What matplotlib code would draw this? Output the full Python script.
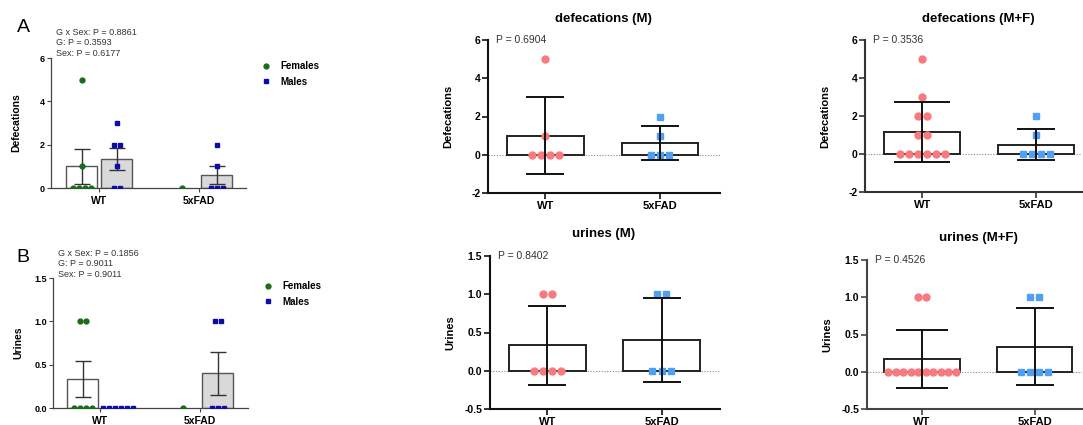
import numpy as np
import matplotlib.pyplot as plt

plt.rcParams['font.family'] = ['Liberation Sans', 'DejaVu Sans']
plt.rcParams['axes.unicode_minus'] = False

W, H = 1083, 425

groups = ['WT', '5xFAD']

# panel A / B: by sex
defec_f = [[0, 0, 0, 0, 1, 5], [0]]
defec_m = [[0, 0, 1, 2, 2, 3], [0, 0, 0, 1, 2]]
urine_f = [[0, 0, 0, 0, 1, 1], [0]]
urine_m = [[0, 0, 0, 0, 0, 0], [0, 0, 0, 1, 1]]
stats_a = ['G x Sex: P = 0.8861', 'G: P = 0.3593', 'Sex: P = 0.6177']
stats_b = ['G x Sex: P = 0.1856', 'G: P = 0.9011', 'Sex: P = 0.9011']

# genotype-only panels
defec_M = [[0, 0, 0, 0, 1, 5], [0, 0, 0, 1, 2]]
defec_MF = [[0, 0, 0, 0, 0, 0, 1, 1, 2, 2, 3, 5], [0, 0, 0, 0, 1, 2]]
urine_M = [[0, 0, 0, 0, 1, 1], [0, 0, 0, 1, 1]]
urine_MF = [[0, 0, 0, 0, 0, 0, 0, 0, 0, 0, 1, 1], [0, 0, 0, 0, 1, 1]]
p_vals = ['P = 0.6904', 'P = 0.3536', 'P = 0.8402', 'P = 0.4526']

green, navy = '#1b6b1b', '#0c0caa'
pink, blue = '#f87a80', '#4fa0f5'

fig = plt.figure(figsize=(W / 100, H / 100), dpi=100)


def place(x0, x1, ytop, ybot):
    return fig.add_axes([x0 / W, 1 - ybot / H, (x1 - x0) / W, (ybot - ytop) / H])


def swarm(vals, center, step, maxw):
    vals = np.asarray(vals, float)
    xs = np.zeros_like(vals)
    for v in np.unique(vals):
        idx = np.where(vals == v)[0]
        n = len(idx)
        s = step if n < 2 else min(step, maxw / (n - 1))
        xs[idx] = center + (np.arange(n) - (n - 1) / 2) * s
    return xs


def sex_panel(ax, fem, mal, ylim, yticks, yfmt, ylabel, xlim, stats, stats_xy, leg_xy):
    off, bw = 0.175, 0.31
    for i in range(2):
        for data, sign, face, col, mk, lab in [(fem[i], -1, 'white', green, 'o', 'Females'),
                                              (mal[i], 1, '#d9d9d9', navy, 's', 'Males')]:
            d = np.array(data, float)
            c = i + sign * off
            m = d.mean()
            if m > 0:
                ax.bar(c, m, bw, color=face, edgecolor='#555555', lw=1, zorder=2)
            if len(d) > 1 and d.std() > 0:
                sem = d.std(ddof=1) / np.sqrt(len(d))
                ax.errorbar(c, m, yerr=sem, color='#333333', lw=1, capsize=6,
                            capthick=1, zorder=3)
            ax.plot(swarm(d, c, 0.06, 0.5), d, mk, ms=3.5, color=col, zorder=4,
                    ls='none', label=lab if i == 0 else None)
    ax.set_xlim(*xlim)
    ax.set_ylim(*ylim)
    ax.set_yticks(yticks)
    ax.set_yticklabels([yfmt.format(t) for t in yticks], fontsize=6.5, fontweight='bold')
    ax.set_xticks([0, 1])
    ax.set_xticklabels(groups, fontsize=7.5, fontweight='bold')
    ax.tick_params(axis='both', length=3, width=0.8, color='#444444', pad=1.5)
    ax.tick_params(axis='x', pad=2.5)
    for s in ['top', 'right']:
        ax.spines[s].set_visible(False)
    for s in ['left', 'bottom']:
        ax.spines[s].set_color('#444444')
        ax.spines[s].set_linewidth(0.9)
    ax.set_ylabel(ylabel, fontsize=7.5, fontweight='bold')
    ax.yaxis.set_label_coords(-0.15, 0.5)
    fig.text(stats_xy[0] / W, 1 - stats_xy[1] / H, '\n'.join(stats), fontsize=6.5,
             color='#333333', va='top', ha='left', linespacing=1.2)
    ax.legend(loc='upper left', bbox_to_anchor=(leg_xy[0] / W, 1 - leg_xy[1] / H),
              bbox_transform=fig.transFigure, frameon=False, borderpad=0,
              borderaxespad=0, handlelength=1, handletextpad=1.0, labelspacing=0.6,
              prop={'size': 7, 'weight': 'bold'}, markerscale=1.0)


def group_panel(ax, data2, ylim, yticks, yfmt, ylabel, xlim, title, title_xy,
                p, caps, spine_col):
    for i, (data, col, mk) in enumerate([(data2[0], pink, 'o'), (data2[1], blue, 's')]):
        d = np.array(data, float)
        m = d.mean()
        sd = d.std(ddof=1)
        ax.bar(i, m, 0.67, color='white', edgecolor='#222222', lw=1.4, zorder=2)
        ax.plot(swarm(d, i, 0.079, 0.6), d, mk, ms=5, color=col, ls='none', zorder=3)
        ax.errorbar(i, m, yerr=sd, color='#111111', lw=1.4, capsize=caps[i],
                    capthick=1.4, zorder=4)
    ax.axhline(0, color='#888888', lw=0.8, ls=(0, (1, 1.5)), zorder=1)
    ax.set_xlim(*xlim)
    ax.set_ylim(*ylim)
    ax.set_yticks(yticks)
    ax.set_yticklabels([yfmt.format(t) for t in yticks], fontsize=7.5, fontweight='bold')
    ax.set_xticks([0, 1])
    ax.set_xticklabels(groups, fontsize=8, fontweight='bold')
    ax.tick_params(axis='both', length=4, width=1.2, color=spine_col, pad=1.5)
    for s in ['top', 'right']:
        ax.spines[s].set_visible(False)
    for s in ['left', 'bottom']:
        ax.spines[s].set_color(spine_col)
        ax.spines[s].set_linewidth(1.5)
    ax.set_ylabel(ylabel, fontsize=8, fontweight='bold')
    ax.yaxis.set_label_coords(-35 / (ax.get_position().width * W), 0.5)
    fig.text(title_xy[0] / W, 1 - title_xy[1] / H, title, fontsize=9.5,
             fontweight='bold', ha='center', va='center')
    scale = ax.get_position().width * W / (xlim[1] - xlim[0])
    ax.text(xlim[0] + 8 / scale, ylim[1], p, fontsize=7.5, color='#333333',
            va='center', ha='left')


# panel A
axA = place(51, 246, 58, 188)
sex_panel(axA, defec_f, defec_m, (0, 6), [0, 2, 4, 6], '{:.0f}', 'Defecations',
          (-0.48, 1.47), stats_a, (56, 28), (261, 61))
fig.text(23 / W, 1 - 28 / H, 'A', fontsize=14, ha='center', va='center')

# panel B
axB = place(53, 248, 278, 408)
sex_panel(axB, urine_f, urine_m, (0, 1.5), [0, 0.5, 1.0, 1.5], '{:.1f}', 'Urines',
          (-0.47, 1.48), stats_b, (58, 249), (263, 281))
fig.text(23 / W, 1 - 258 / H, 'B', fontsize=14, ha='center', va='center')

ax1 = place(488, 720, 40, 193)
group_panel(ax1, defec_M, (-2, 6), [-2, 0, 2, 4, 6], '{:.0f}', 'Defecations',
            (-0.502, 1.524), 'defecations (M)', (603, 19), p_vals[0], (13.5, 13.5), '#111111')

ax2 = place(865, 1082, 40, 192)
group_panel(ax2, defec_MF, (-2, 6), [-2, 0, 2, 4, 6], '{:.0f}', 'Defecations',
            (-0.504, 1.403), 'defecations (M+F)', (978, 19), p_vals[1], (20, 13.5), '#333333')

ax3 = place(490, 720, 256, 409)
group_panel(ax3, urine_M, (-0.5, 1.5), [-0.5, 0, 0.5, 1.0, 1.5], '{:.1f}', 'Urines',
            (-0.504, 1.513), 'urines (M)', (604, 234), p_vals[2], (14, 14), '#111111')

ax4 = place(867, 1082, 260, 409)
group_panel(ax4, urine_MF, (-0.5, 1.5), [-0.5, 0, 0.5, 1.0, 1.5], '{:.1f}', 'Urines',
            (-0.489, 1.422), 'urines (M+F)', (978, 238), p_vals[3], (19, 14), '#444444')

fig.savefig('out.png', dpi=100)
